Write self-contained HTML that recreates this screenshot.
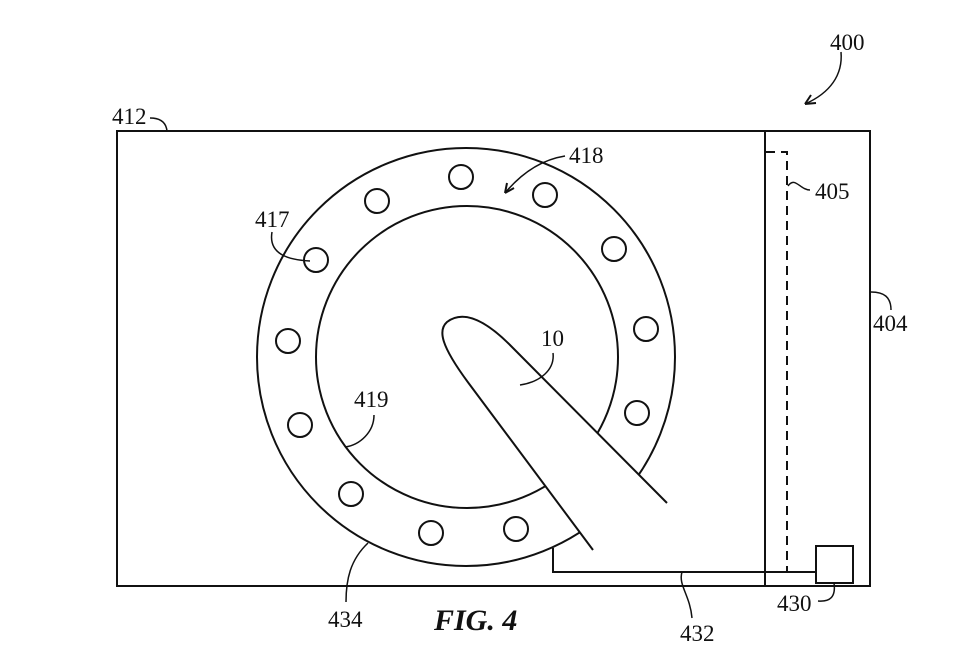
<!DOCTYPE html>
<html><head><meta charset="utf-8"><style>
html,body{margin:0;padding:0;background:#fff;}
svg{display:block;}
text{font-family:"Liberation Serif",serif;font-size:23px;fill:#111;}
</style></head><body>
<svg width="979" height="645" viewBox="0 0 979 645" xmlns="http://www.w3.org/2000/svg">
<g fill="none" stroke="#111" stroke-width="2">
<rect x="117" y="131" width="753" height="455"/>
<line x1="765" y1="131" x2="765" y2="586"/>
<path d="M766 152 H787 V572" stroke-dasharray="9,6"/>
<circle cx="466" cy="357" r="209"/>
<circle cx="467" cy="357" r="151"/>
<g>
<circle cx="461" cy="177" r="12"/><circle cx="545" cy="195" r="12"/><circle cx="614" cy="249" r="12"/>
<circle cx="646" cy="329" r="12"/><circle cx="637" cy="413" r="12"/><circle cx="516" cy="529" r="12"/>
<circle cx="431" cy="533" r="12"/><circle cx="351" cy="494" r="12"/><circle cx="300" cy="425" r="12"/>
<circle cx="288" cy="341" r="12"/><circle cx="316" cy="260" r="12"/><circle cx="377" cy="201" r="12"/>
</g>
<path d="M593 550 L470 385 C440 345 438 330 447 322 C460 312 480 315 510 345 L667 503 Z" fill="#fff" stroke="none"/>
<path d="M593 550 L470 385 C440 345 438 330 447 322 C460 312 480 315 510 345 L667 503"/>
<path d="M553 548 V572 H816"/>
<rect x="816" y="546" width="37" height="37"/>
<path d="M150 118 C160 118 166 122 167 131" stroke-width="1.5"/>
<path d="M272 232 C268 255 290 260 310 261" stroke-width="1.5"/>
<path d="M565 156 C540 160 520 175 505 193" stroke-width="1.5"/>
<path d="M505 193 l2 -10 M505 193 l9 -5" stroke-width="2"/>
<path d="M553 353 C555 370 540 382 520 385" stroke-width="1.5"/>
<path d="M374 415 C374 432 360 445 345 447" stroke-width="1.5"/>
<path d="M368 543 C350 560 346 580 346 602" stroke-width="1.5"/>
<path d="M682 572 C678 585 690 595 692 618" stroke-width="1.5"/>
<path d="M834 583 C836 597 830 602 818 601" stroke-width="1.5"/>
<path d="M871 292 C884 292 891 297 891 310" stroke-width="1.5"/>
<path d="M788 186 C795 176 800 190 810 190" stroke-width="1.5"/>
<path d="M841 52 C843 75 830 93 805 104" stroke-width="1.5"/>
<path d="M805 104 l6 -9 M805 104 l11 -1" stroke-width="2"/>
</g>
<text x="112" y="124">412</text>
<text x="830" y="50">400</text>
<text x="569" y="163">418</text>
<text x="255" y="227">417</text>
<text x="815" y="199">405</text>
<text x="873" y="331">404</text>
<text x="541" y="346">10</text>
<text x="354" y="407">419</text>
<text x="328" y="627">434</text>
<text x="680" y="641">432</text>
<text x="777" y="611">430</text>
<text x="434" y="630" style="font-size:30px;font-weight:bold;font-style:italic">FIG. 4</text>
</svg>
</body></html>
